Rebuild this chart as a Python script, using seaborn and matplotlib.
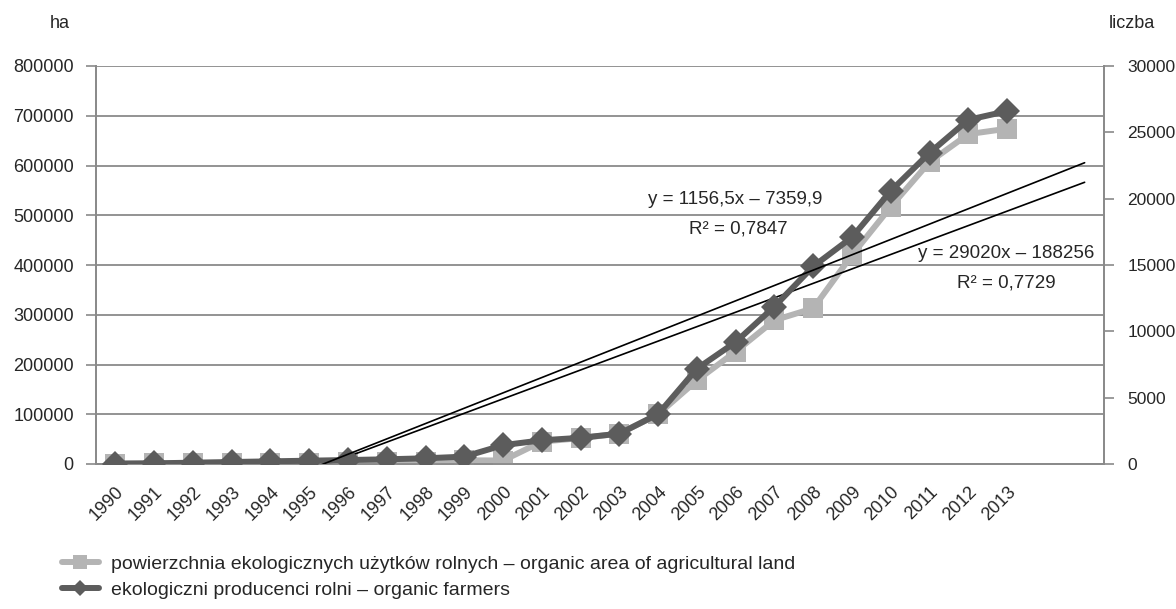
import numpy as np
import pandas as pd
import matplotlib
matplotlib.use("Agg")
import matplotlib.pyplot as plt
from matplotlib.lines import Line2D
import seaborn as sns

# ---------------- data ----------------
years = list(range(1990, 2014))
extra_categories = ["", ""]  # empty categories used by the trend forecast
area_ha = [1000, 1200, 1500, 2000, 2500, 3000, 4000, 4500, 5000, 7500, 7000,
           45000, 52000, 61000, 100000, 168000, 226000, 289000, 313000,
           420000, 517000, 607000, 663000, 674000]
farmers = [27, 50, 100, 150, 200, 250, 300, 354, 430, 555, 1419, 1787, 1977,
           2286, 3760, 7183, 9194, 11870, 14896, 17091, 20582, 23449, 25944, 26598]
# linear trend lines (Excel: x = 1 .. n categories)
trend_area_slope, trend_area_intercept = 29020.0, -188256.0
trend_farm_slope, trend_farm_intercept = 1156.5, -7359.9
trend_area_text = ["y = 29020x – 188256", "R² = 0,7729"]
trend_farm_text = ["y = 1156,5x – 7359,9", "R² = 0,7847"]
label_area = "powierzchnia ekologicznych użytków rolnych – organic area of agricultural land"
label_farm = "ekologiczni producenci rolni – organic farmers"
left_unit, right_unit = "ha", "liczba"
left_ticks = [0, 100000, 200000, 300000, 400000, 500000, 600000, 700000, 800000]
right_ticks = [0, 5000, 10000, 15000, 20000, 25000, 30000]

# ---------------- style ----------------
sns.set_style("white")
plt.rcParams["font.family"] = ["Liberation Sans", "DejaVu Sans"]
FS = 13
GRID = "#8a8a8a"
LIGHT = "#b4b4b4"
DARK = "#5c5c5c"

W, H = 1176, 609
fig = plt.figure(figsize=(W / 100, H / 100), dpi=100)
L, R, T, B = 96, 1104, 66, 464
ax = fig.add_axes([L / W, 1 - B / H, (R - L) / W, (B - T) / H])
ax2 = ax.twinx()

categories = [str(y) for y in years] + extra_categories
n_cat = len(categories)
idx = np.arange(len(years))

df = pd.DataFrame({"idx": idx, "area": area_ha, "farmers": farmers})

sns.lineplot(data=df, x="idx", y="area", ax=ax, color=LIGHT, lw=4.3,
             marker="s", markersize=14, markeredgewidth=0, legend=False, zorder=3)
sns.lineplot(data=df, x="idx", y="farmers", ax=ax2, color=DARK, lw=4.3,
             marker="D", markersize=13, markeredgewidth=0, legend=False, zorder=3)

# trend lines
xt = np.arange(1, n_cat + 1)
tr = pd.DataFrame({"x": xt - 1,
                   "area": trend_area_slope * xt + trend_area_intercept,
                   "farm": trend_farm_slope * xt + trend_farm_intercept})
sns.lineplot(data=tr, x="x", y="area", ax=ax, color="black", lw=1.2, legend=False, zorder=4)
sns.lineplot(data=tr, x="x", y="farm", ax=ax2, color="black", lw=1.2, legend=False, zorder=4)

# axes
ax.set_xlim(-0.5, n_cat - 0.5)
ax.set_ylim(0, 800000)
ax2.set_ylim(0, 30000)
ax.set_xlabel("")
ax.set_ylabel("")
ax2.set_ylabel("")

ax.set_yticks(left_ticks)
ax.set_yticklabels([str(v) for v in left_ticks], fontsize=FS)
ax2.set_yticks(right_ticks)
ax2.set_yticklabels([str(v) for v in right_ticks], fontsize=12.5)

ax.set_xticks(np.arange(n_cat))
ax.set_xticklabels(categories, fontsize=FS, rotation=45, ha="right", va="top",
                   rotation_mode="anchor")
ax.set_xticks(np.arange(-0.5, n_cat, 1), minor=True)
ax.tick_params(axis="x", which="major", length=0, pad=14)
ax.tick_params(axis="x", which="minor", length=7, width=1.2, color=GRID, direction="out")
ax.tick_params(axis="y", length=7, width=1.2, color=GRID, pad=9, direction="out")
ax2.tick_params(axis="y", length=7, width=1.2, color=GRID, pad=10, direction="out")

ax.yaxis.grid(True, color=GRID, lw=1.3)
ax.xaxis.grid(False)
ax2.grid(False)
ax.set_axisbelow(True)

for a in (ax, ax2):
    a.spines["top"].set_visible(False)
    for s in ("left", "right", "bottom"):
        a.spines[s].set_color(GRID)
        a.spines[s].set_linewidth(1.3)

# texts
def ftxt(x, y, s, fs=FS, **kw):
    fig.text(x / W, 1 - y / H, s, fontsize=fs, ha="center", va="center", **kw)

ftxt(60, 23, left_unit)
ftxt(1132, 23, right_unit)
ftxt(735, 200, trend_farm_text[0], fs=13.5)
ftxt(738, 229, trend_farm_text[1], fs=13.5)
ftxt(1006, 254, trend_area_text[0], fs=13.5)
ftxt(1006, 283, trend_area_text[1], fs=13.5)

# legend
handles = [Line2D([], [], color=LIGHT, lw=4.3, marker="s", markersize=10, markeredgewidth=0),
           Line2D([], [], color=DARK, lw=4.3, marker="D", markersize=8, markeredgewidth=0)]
fig.legend(handles, [label_area, label_farm], loc="upper left",
           bbox_to_anchor=(62 / W, 1 - 555 / H), frameon=False, fontsize=14,
           handlelength=1.9, handletextpad=0.6, labelspacing=0.45,
           borderpad=0, borderaxespad=0, numpoints=1)

fig.savefig("out.png", dpi=100)
